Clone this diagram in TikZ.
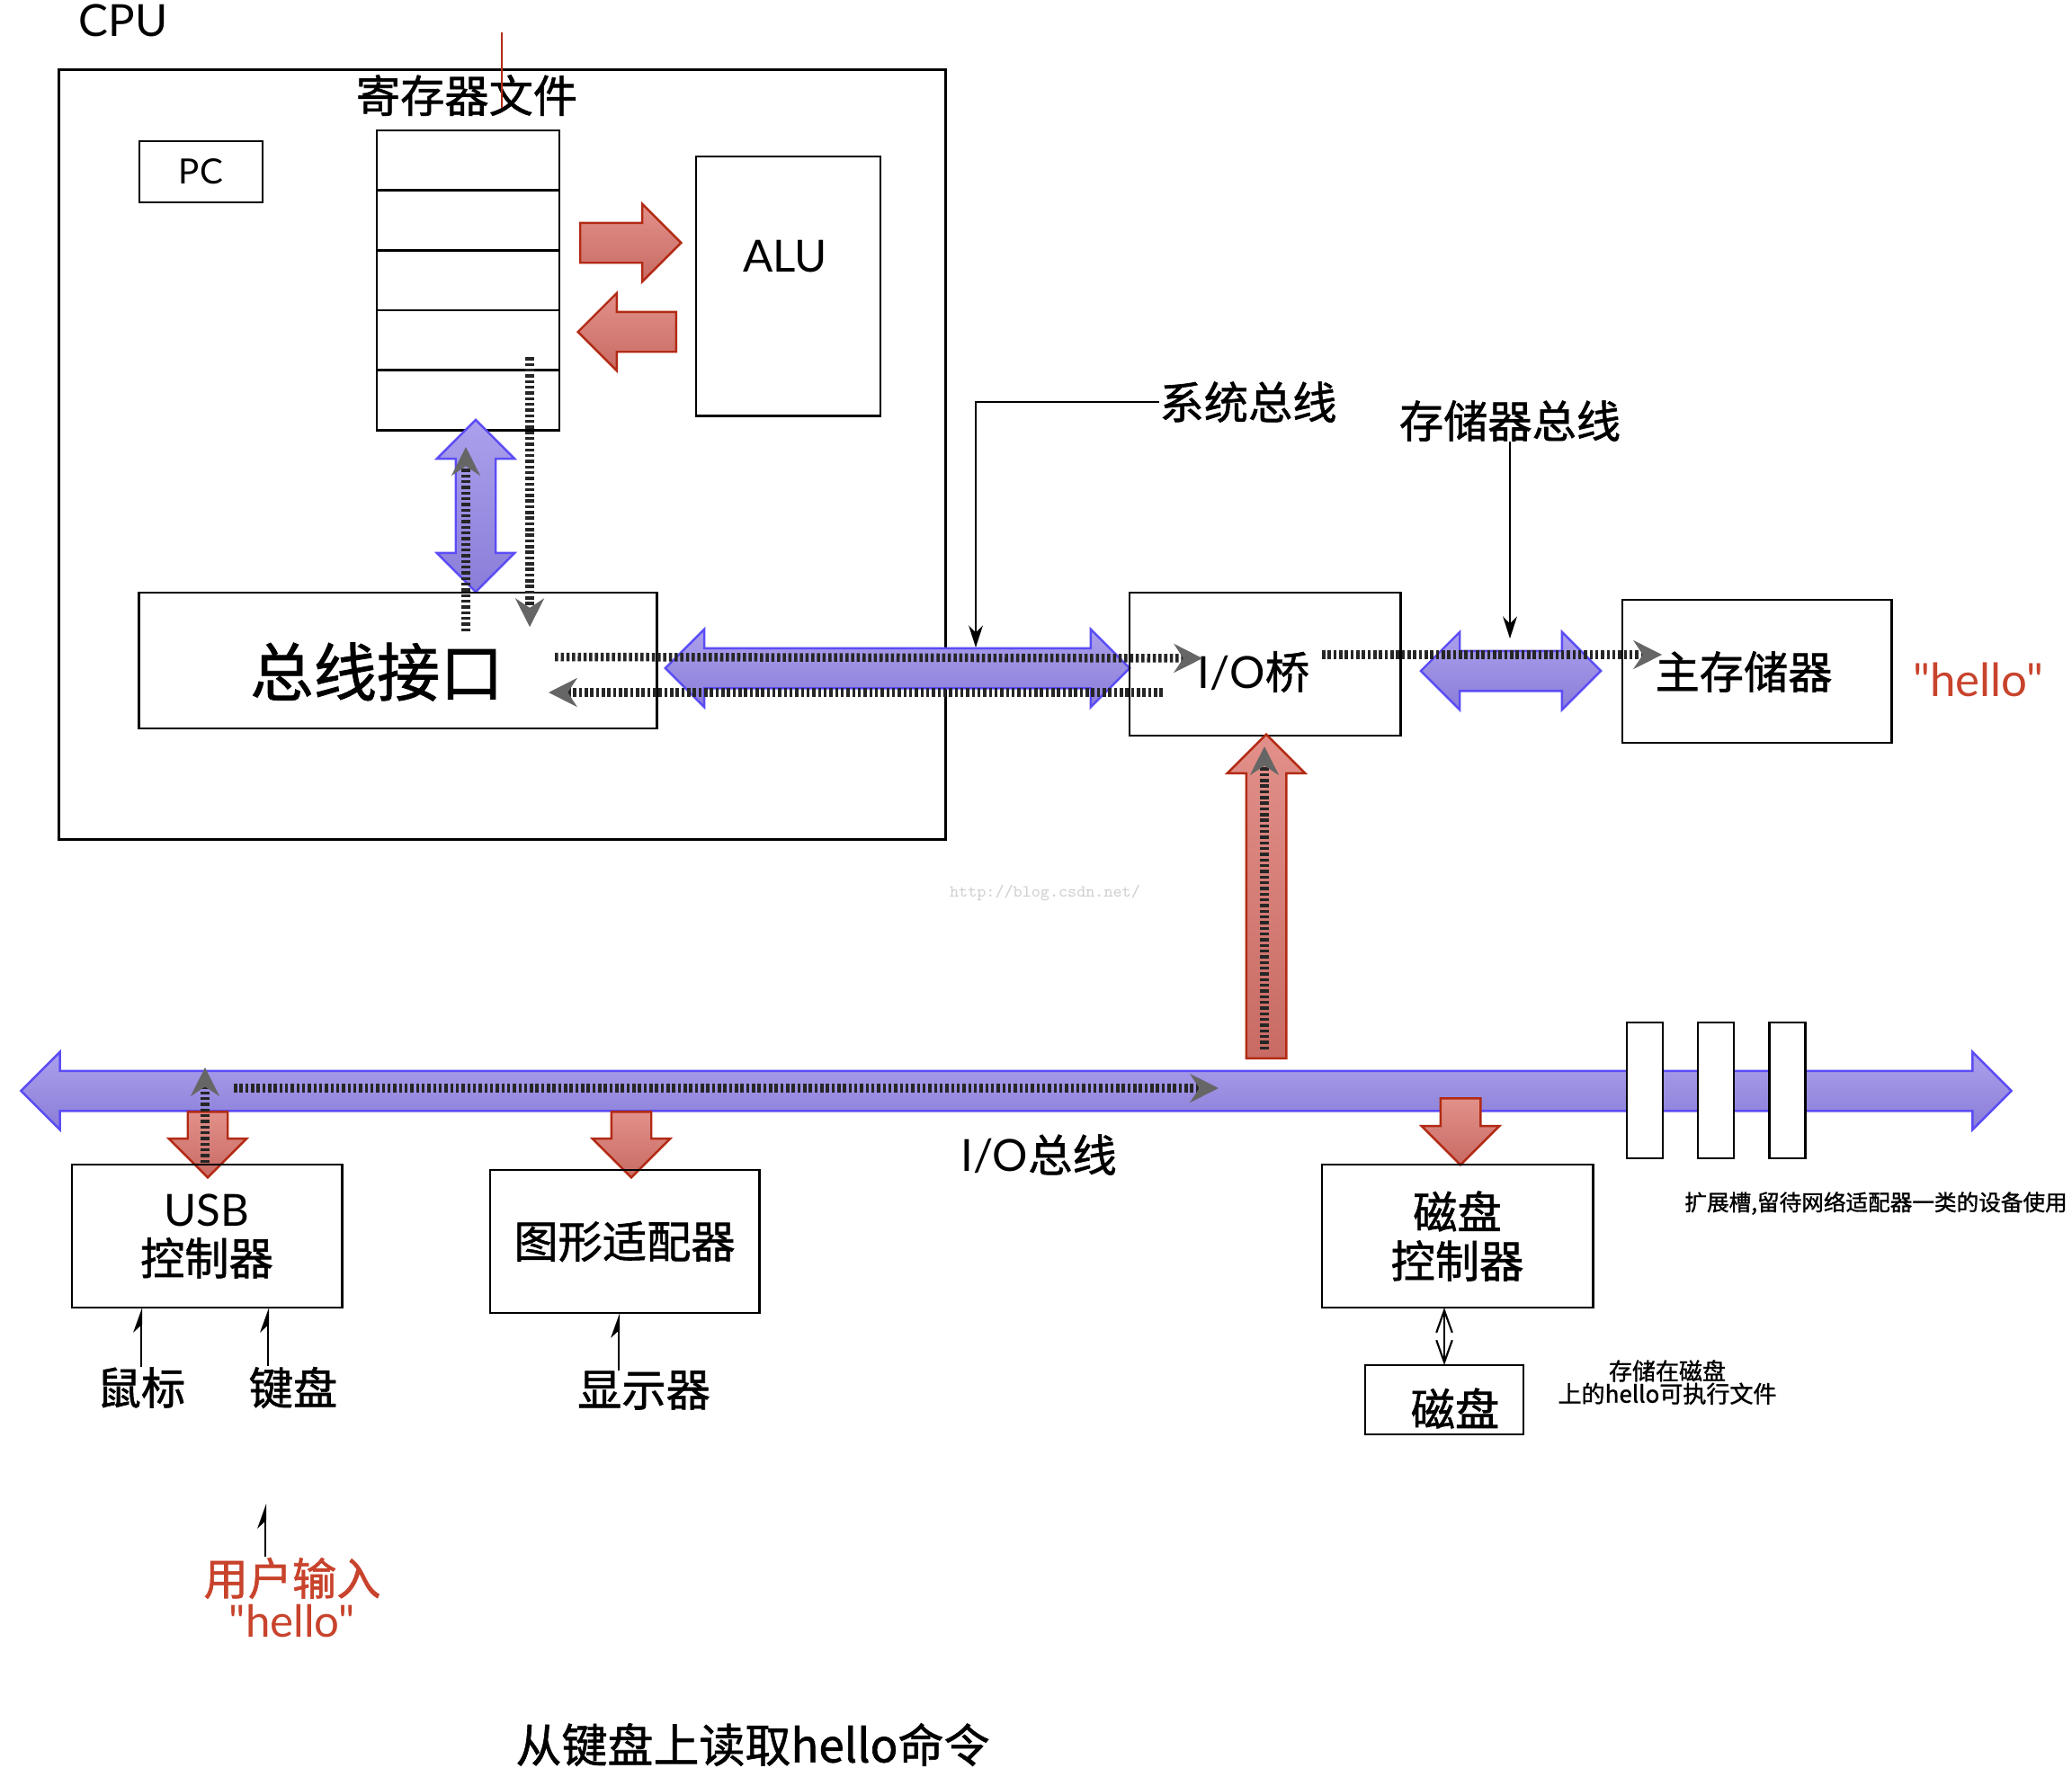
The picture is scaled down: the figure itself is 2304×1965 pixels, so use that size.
\documentclass[tikz,border=0pt]{standalone}
\usepackage{fontspec}
\setmainfont{Noto Sans CJK SC}[FakeBold=1.2]
\newfontfamily\lat{Lato}
\usetikzlibrary{shapes.arrows,arrows.meta,positioning}

\definecolor{busfill}{HTML}{ABA0EC}
\definecolor{busdark}{HTML}{8A7DD8}
\definecolor{busline}{HTML}{5B4CF5}
\definecolor{hotfill}{HTML}{E2908A}
\definecolor{hotdark}{HTML}{C86B64}
\definecolor{hotline}{HTML}{B22A14}
\definecolor{hellored}{HTML}{C8432C}

\tikzset{
  box/.style={draw, line width=0.8pt, inner sep=0pt, outer sep=0pt},
  txt/.style={inner sep=0pt, font=\fontsize{14}{16}\selectfont},
  latin/.style={inner sep=0pt, font=\lat\fontsize{14}{16}\selectfont},
  bus/.style={double arrow, draw=busline, line width=0.7pt, top color=busfill, bottom color=busdark,
    inner xsep=0pt, inner ysep=0.21cm, double arrow head extend=0.21cm, double arrow tip angle=90},
  hot/.style={single arrow, draw=hotline, line width=0.7pt, top color=hotfill, bottom color=hotdark,
    inner xsep=0pt, inner ysep=0.21cm, single arrow head extend=0.21cm, single arrow tip angle=90, anchor=tail},
  flow/.style={draw=black!85, line width=2.7pt, dash pattern=on 1pt off 0.8pt,
    -{Stealth[length=9pt, width=9pt, color=black!60]}},
  lead/.style={draw, line width=0.6pt, -{Stealth[length=7pt, width=4.5pt]}},
  hook/.style={draw, line width=0.6pt, -{Stealth[harpoon, length=7pt, width=5pt]}},
  twoway/.style={draw, line width=0.6pt, {Straight Barb[length=7pt, width=5pt]}-{Straight Barb[length=7pt, width=5pt]}},
}

\begin{document}
\begin{tikzpicture}[x=0.01cm, y=-0.01cm]
  \useasboundingbox (0,0) rectangle (2304,1965);

  \node (cpu) [box, minimum width=9.85cm, minimum height=8.55cm] at (558.5,505.5) {};
  \node (cputitle) [latin] at (137,23) {CPU};
  \node (regtitle) [txt] at (519,106) {寄存器文件};
  \draw[hotline, line width=0.5pt] (558,36) -- (558,120);

  \node (pc) [box, minimum width=1.37cm, minimum height=0.68cm, font=\lat\fontsize{11}{13}\selectfont] at (223.5,191) {PC};
  \node (reg0) [box, minimum width=2.03cm, minimum height=0.666cm] at (520.5,178.3) {};
  \foreach \i [count=\j from 1] in {0,...,3}
    \node (reg\j) [box, minimum width=2.03cm, minimum height=0.666cm, below=0pt of reg\i] {};
  \node (alu) [box, minimum width=2.05cm, minimum height=2.88cm] at (876.5,318) {};
  \node (alutext) [latin] at (873,285) {ALU};
  \node (toalu) [hot, minimum height=1.12cm] at (644,270) {};
  \node (fromalu) [hot, minimum height=1.09cm, rotate=180] at (753,369) {};
  \node (regbus) [bus, minimum height=1.91cm, rotate=90] at (529,562.5) {};

  \node (busif) [box, minimum width=5.75cm, minimum height=1.51cm] at (442.5,734.5) {};
  \node (busiftext) [txt, font=\fontsize{20}{22}\selectfont] at (419,747) {总线接口};

  \node (sysbus) [bus, minimum height=5.16cm] at (998,743) {};
  \node (bridge) [box, minimum width=3.01cm, minimum height=1.59cm] at (1406.5,738.5) {};
  \node (bridgetext) [txt] at (1394,747) {{\lat I/O}桥};
  \node (membus) [bus, minimum height=2cm] at (1680,746) {};
  \node (mem) [box, minimum width=2.99cm, minimum height=1.59cm] at (1953.5,746.5) {};
  \node (memtext) [txt] at (1939,747) {主存储器};
  \node (memhello) [latin, font=\lat\fontsize{14.5}{16}\selectfont, text=hellored] at (2200,756) {"hello"};

  \node (sysbuslabel) [txt] at (1388,447) {系统总线};
  \node (membuslabel) [txt] at (1679,468) {存储器总线};
  \coordinate (sysbustop) at (1085,720);
  \coordinate (membustop) at (1679,710);
  \draw[lead] (sysbuslabel.west) -| (sysbustop);
  \draw[lead] (membuslabel.south) -- (membustop);

  \node (busup) [hot, minimum height=3.6cm, rotate=90] at (1408,1178) {};
  \node (mark) [inner sep=0pt, font=\ttfamily\fontsize{5.4}{6}\selectfont, text=black!18] at (1162,993) {http://blog.csdn.net/};

  \node (iobus) [bus, minimum height=22.12cm] at (1130,1213) {};
  \foreach \x [count=\k] in {1829,1908,1987.5}
    \node (slot\k) [box, fill=white, minimum width=0.4cm, minimum height=1.51cm] at (\x,1212.5) {};
  \node (usbin) [hot, minimum height=0.73cm, rotate=-90] at (231,1235) {};
  \node (gfxin) [hot, minimum height=0.73cm, rotate=-90] at (702,1235) {};
  \node (diskin) [hot, minimum height=0.74cm, rotate=-90] at (1624,1220) {};

  \node (usb) [box, minimum width=3cm, minimum height=1.59cm, align=center, font=\fontsize{14}{15.5}\selectfont] at (230,1374.5) {{\lat USB}\\控制器};
  \node (gfx) [box, minimum width=2.99cm, minimum height=1.59cm, font=\fontsize{14}{16}\selectfont] at (694.5,1380.5) {图形适配器};
  \node (iobuslabel) [txt] at (1155,1284) {{\lat I/O}总线};
  \node (diskctl) [box, minimum width=3.01cm, minimum height=1.59cm, align=center, font=\fontsize{14}{15.5}\selectfont] at (1620.5,1374.5) {磁盘\\控制器};
  \node (disk) [box, minimum width=1.76cm, minimum height=0.77cm] at (1606,1556.5) {};
  \node (disktext) [txt] at (1618,1566) {磁盘};
  \draw[twoway] (disk.north) -- (disk.north |- diskctl.south);
  \node (disknote) [txt, align=center, font=\fontsize{7.4}{7.2}\selectfont] at (1854,1537) {存储在磁盘\\上的hello可执行文件};
  \node (slotnote) [txt, font=\fontsize{7}{8}\selectfont] at (2086,1338) {扩展槽,留待网络适配器一类的设备使用};

  \node (mouse) [txt] at (157,1543) {鼠标};
  \node (kbd) [txt] at (326,1543) {键盘};
  \node (screen) [txt] at (716,1546) {显示器};
  \draw[hook] (mouse.north) -- (mouse.north |- usb.south);
  \draw[hook] ([xshift=-0.28cm]kbd.north) -- ([xshift=-0.28cm]kbd.north |- usb.south);
  \draw[hook] ([xshift=-0.28cm]screen.north) -- ([xshift=-0.28cm]screen.north |- gfx.south);

  \node (typed) [txt, text=hellored] at (325,1755) {用户输入};
  \node (typedword) [latin, text=hellored] at (325,1802) {"hello"};
  \coordinate (typedtip) at (295,1672);
  \draw[hook] (typed.north -| typedtip) -- (typedtip);

  \node (caption) [txt, font=\fontsize{14.5}{16}\selectfont] at (837,1940) {从键盘上读取hello命令};

  \draw[flow] ([shift={(75.5,-32.5)}]busif.center) -- ++(0,-205);
  \draw[flow] ([shift={(-33,19)}]reg3.east) -- ++(0,300);
  \draw[flow] ([shift={(-113,-4)}]busif.east) -- ++(720,1.5);
  \draw[flow] ([shift={(37,31.5)}]bridge.west) -- ++(-683,0);
  \draw[flow] ([shift={(-87,-10.5)}]bridge.east) -- ++(378,0);
  \draw[flow] ([shift={(-2,-11)}]busup.tail) -- ++(0,-337);
  \draw[flow] ([shift={(-870,-3)}]iobus.center) -- ++(1095,0);
  \draw[flow] ([shift={(-3,58)}]usbin.tail) -- ++(0,-106);
\end{tikzpicture}
\end{document}
